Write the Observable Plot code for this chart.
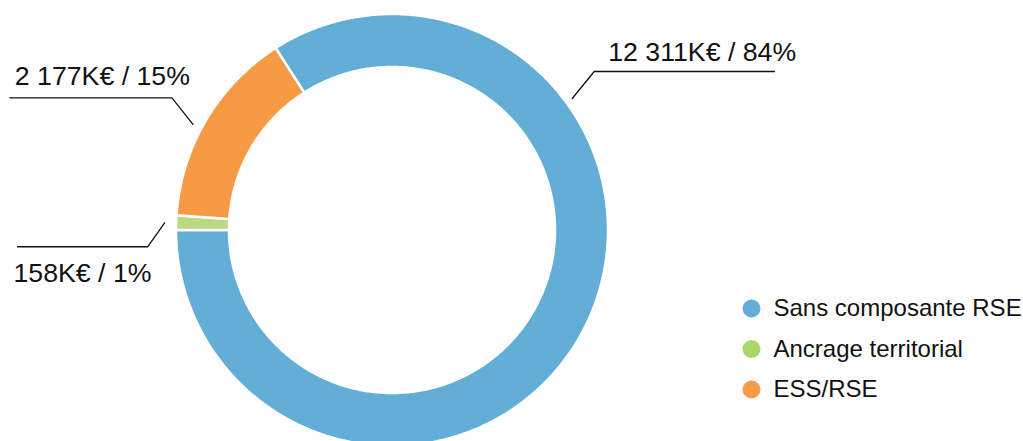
<!DOCTYPE html>
<html>
<head>
<meta charset="utf-8">
<script src="https://cdn.jsdelivr.net/npm/d3@7"></script>
<script src="https://cdn.jsdelivr.net/npm/@observablehq/plot@0.6"></script>
<style>
  html, body { margin: 0; padding: 0; background: #fff; }
  #chart svg { display: block; font-family: "Liberation Sans", Arial, sans-serif; }
</style>
</head>
<body>
<div id="chart"></div>
<script>
// ---- data ----
const categories = ["Sans composante RSE", "Ancrage territorial", "ESS/RSE"];
const values = [12311, 158, 2177];
const sliceLabels = ["12 311K€ / 84%", "158K€ / 1%", "2 177K€ / 15%"];

// ---- styles / layout ----
const sliceColors = ["#62aed6", "#bcd882", "#f79a45"];
const legendColors = ["#62aed6", "#a6d86c", "#f79a45"];
const W = 1023, H = 441;
const cx = 392, cy = 230;          // donut centre in pixels
const R0 = 163, R1 = 216;          // inner / outer radius

const total = d3.sum(values);
// the first slice ends exactly at 9 o'clock
const start = 270 - 360 * values[0] / total;
const rad = a => a * Math.PI / 180;
const pt = (a, r) => [r * Math.sin(rad(a)), -r * Math.cos(rad(a))];

const slices = [];
let a = start;
values.forEach((v, i) => {
  const a0 = a, a1 = a + 360 * v / total;
  slices.push({cat: categories[i], a0, a1, mid: (a0 + a1) / 2, i});
  a = a1;
});

const ring = [];
for (const s of slices) {
  const n = Math.max(4, Math.ceil((s.a1 - s.a0) * 2));
  for (let k = 0; k <= n; k++) {
    const t = s.a0 + (s.a1 - s.a0) * k / n;
    const [xi, yi] = pt(t, R0), [xo, yo] = pt(t, R1);
    ring.push({cat: s.cat, xi, yi, xo, yo, color: sliceColors[s.i]});
  }
}

// leader line layout per slice (anchor angle, elbow offset, horizontal end, text offsets)
const layout = [
  {angle: 53.7, r: 223, elbow: [22, -27], endX: 382, textDx: 14, textDy: -10},
  {angle: null, r: 228, elbow: [-17, 24], endX: -375, textDx: -4, textDy: 35},
  {angle: 298, r: 226, elbow: [-21, -26.6], endX: -382.7, textDx: 5, textDy: -12.3}
];
const leaders = [];
const labelPts = [];
slices.forEach((s, i) => {
  const L = layout[i];
  const ang = L.angle ?? s.mid;
  const [x0, y0] = pt(ang, L.r);
  const x1 = x0 + L.elbow[0], y1 = y0 + L.elbow[1];
  leaders.push({id: i, x: x0, y: y0}, {id: i, x: x1, y: y1}, {id: i, x: L.endX, y: y1});
  const tx = i === 0 ? x1 + L.textDx : L.endX + L.textDx;
  labelPts.push({x: tx, y: y1 + L.textDy, text: sliceLabels[i]});
});

const legend = categories.map((c, i) => ({cat: c, x: 359, y: 78 + i * 40.5, color: legendColors[i]}));

const chart = Plot.plot({
  width: W, height: H,
  margin: 0,
  x: {domain: [-cx, W - cx], range: [0, W], axis: null},
  y: {domain: [-cy, H - cy], range: [0, H], axis: null},
  color: {type: "identity"},
  style: {fontFamily: "'Liberation Sans', Arial, sans-serif"},
  marks: [
    Plot.area(ring, {x1: "xi", y1: "yi", x2: "xo", y2: "yo", z: "cat", fill: "color", stroke: "white", strokeWidth: 2.5}),
    Plot.line(leaders, {x: "x", y: "y", z: "id", stroke: "#111", strokeWidth: 1.3}),
    Plot.text(labelPts, {x: "x", y: "y", text: "text", textAnchor: "start", lineAnchor: "bottom", fontSize: 26.7, fill: "#111"}),
    Plot.dot(legend, {x: "x", y: "y", r: 9, fill: "color"}),
    Plot.text(legend, {x: d => d.x + 22, y: "y", text: "cat", textAnchor: "start", lineAnchor: "middle", fontSize: 24, fill: "#111"})
  ]
});
document.getElementById("chart").append(chart);
</script>
</body>
</html>
